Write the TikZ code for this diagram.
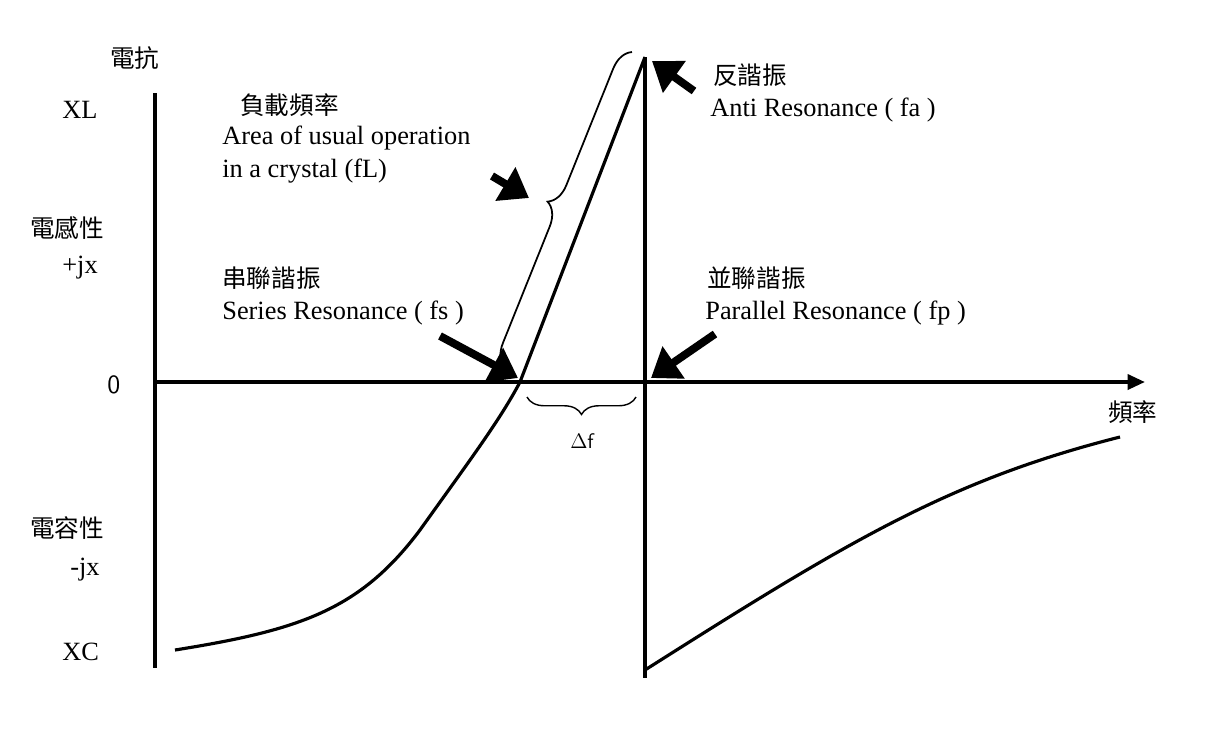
\documentclass[tikz,border=0pt]{standalone}
\usepackage{fontspec}
\setmainfont{Liberation Serif}
\newfontfamily\cjk{Noto Sans CJK TC}
\usetikzlibrary{arrows.meta,decorations.pathreplacing}
\tikzset{
  lbl/.style={inner sep=0pt, anchor=west, font=\fontsize{15}{18}\selectfont},
  zh/.style={lbl, font=\cjk\fontsize{14}{17}\selectfont},
  axis/.style={line width=2.2pt},
  blockarrow/.style={line width=4.5pt, -{Triangle[length=0.55cm,width=0.75cm]}},
}
\begin{document}
\begin{tikzpicture}[x=0.02cm,y=-0.02cm]
\useasboundingbox (0,0) rectangle (1228,735);
% axes
\coordinate (O) at (155,382);
\coordinate (Ytop) at (155,93);
\coordinate (Ybot) at (155,668);
\coordinate (Xend) at (1145,382);
\coordinate (Ptop) at (645,57);
\coordinate (Pbot) at (645,678);
\draw[axis] (Ytop) -- (Ybot);
\draw[axis, -{Triangle[length=0.35cm,width=0.3cm]}] (O) -- (Xend);
\draw[axis] (Ptop) -- (Pbot);
% reactance curve
\draw[line width=1.8pt] (175,650) .. controls (300,630) and (360,610) .. (420,530)
  .. controls (470,460) and (500,420) .. (520,382) -- (Ptop);
\draw[line width=1.8pt] (645,670) .. controls (850,540) and (950,480) .. (1120,437);
% braces
\draw[line width=1pt, decorate, decoration={brace, amplitude=0.45cm}] (505,368) -- (632,52);
\draw[line width=0.8pt, decorate, decoration={brace, mirror, amplitude=0.35cm}] (527,397) -- (636,397);
\node[font=\sffamily\fontsize{12}{14}\selectfont] (df) at (582,441) {$\Delta$f};
% block arrows
\draw[blockarrow] (440,336) -- (518,378);
\draw[blockarrow] (715,334) -- (651,378);
\draw[blockarrow] (694,91) -- (652,61);
\draw[blockarrow] (492,176) -- (529,198);
% axis labels
\node[zh] (xlbl) at (1108,412) {頻率};
\node[zh] (ylbl) at (110,58) {電抗};
\node[lbl] (xl) at (62,110) {XL};
\node[zh] (ind) at (30,228) {電感性};
\node[lbl] (pjx) at (62,268) {+jx};
\node[lbl, font=\sffamily\fontsize{15}{18}\selectfont] (zero) at (107,385) {0};
\node[zh] (cap) at (30,528) {電容性};
\node[lbl] (mjx) at (70,570) {-jx};
\node[lbl] (xc) at (62,652) {XC};
% annotations
\node[zh] (fLzh) at (240,105) {負載頻率};
\node[lbl] (fL1) at (222,138) {Area of usual operation};
\node[lbl] (fL2) at (222,171) {in a crystal (fL)};
\node[zh] (fszh) at (222,278) {串聯諧振};
\node[lbl] (fs) at (222,313) {Series Resonance ( fs )};
\node[zh] (fazh) at (713,75) {反諧振};
\node[lbl] (fa) at (710,110) {Anti Resonance ( fa )};
\node[zh] (fpzh) at (707,278) {並聯諧振};
\node[lbl] (fp) at (705,313) {Parallel Resonance ( fp )};
\end{tikzpicture}
\end{document}
